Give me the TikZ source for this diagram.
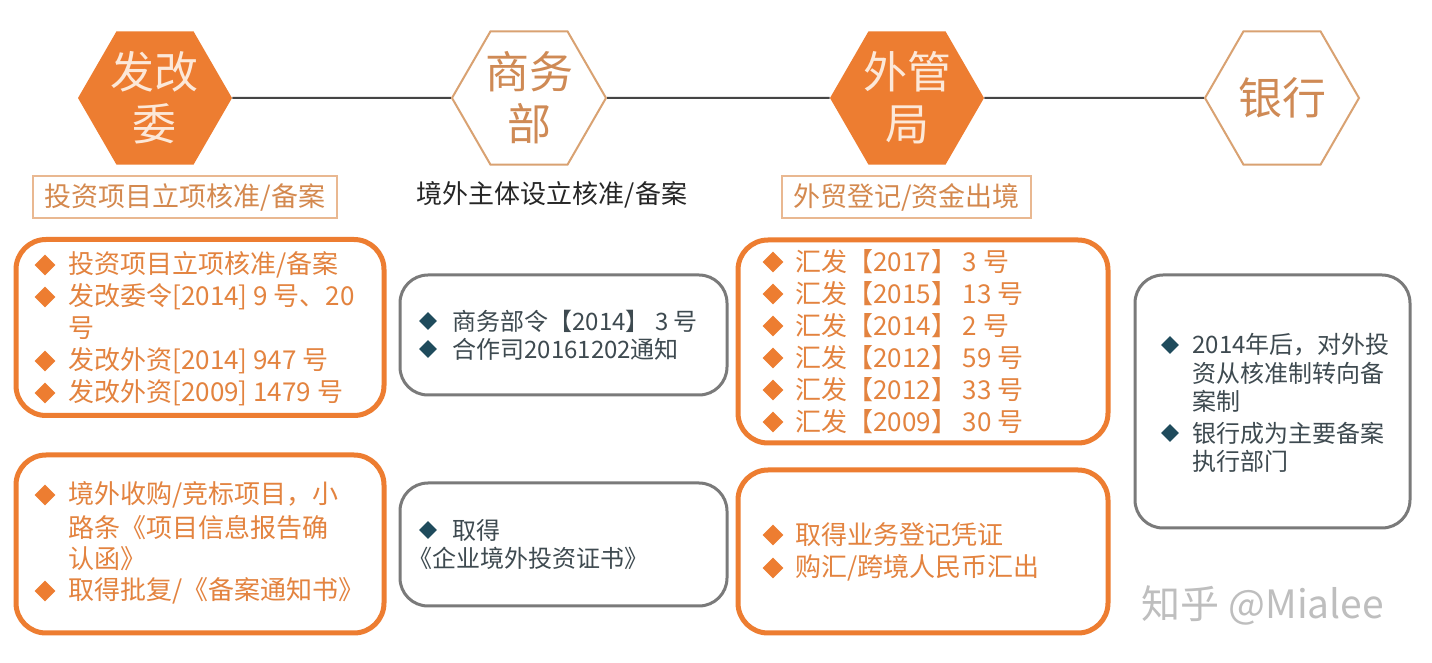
\documentclass[tikz,border=0pt]{standalone}
\usepackage{fontspec}
\setmainfont{Noto Sans CJK SC}
\usetikzlibrary{shapes.geometric}
\definecolor{org}{HTML}{ED7D31}
\definecolor{hexlt}{HTML}{FCE8D8}
\definecolor{hexline}{HTML}{D9A272}
\definecolor{hextxt}{HTML}{CF8A55}
\definecolor{linegray}{HTML}{454545}
\definecolor{lblline}{HTML}{E9B891}
\definecolor{lbltxt}{HTML}{D4894F}
\definecolor{otext}{HTML}{E3833F}
\definecolor{boxgray}{HTML}{7A7A7A}
\definecolor{gtext}{HTML}{3E4A50}
\definecolor{dteal}{HTML}{1F4B5C}
\definecolor{wm}{HTML}{BEBEBE}
\begin{document}
\begin{tikzpicture}[x=0.5pt,y=-0.5pt,
  hexf/.style={regular polygon, regular polygon sides=6, minimum size=77pt, inner sep=0pt, fill=org, text=hexlt, align=center, font=\fontsize{22pt}{26pt}\selectfont},
  hexo/.style={regular polygon, regular polygon sides=6, minimum size=77pt, inner sep=0pt, draw=hexline, line width=1pt, fill=white, text=hextxt, align=center, font=\fontsize{22pt}{26pt}\selectfont},
  link/.style={draw=linegray, line width=1pt},
  lbox/.style={draw=lblline, line width=1pt, text=lbltxt, inner sep=0pt, font=\fontsize{13.5pt}{16pt}\selectfont},
  obox/.style={draw=org, line width=2.5pt, rounded corners=15pt, inner sep=0pt},
  gbox/.style={draw=boxgray, line width=1.5pt, rounded corners=14pt, inner sep=0pt},
  otxt/.style={anchor=west, inner sep=0pt, text=otext, font=\fontsize{13pt}{15pt}\selectfont},
  gtxt/.style={anchor=west, inner sep=0pt, text=gtext, font=\fontsize{12pt}{14pt}\selectfont},
  odia/.style={diamond, fill=org, minimum width=10.5pt, minimum height=10.5pt, inner sep=0pt},
  gdia/.style={diamond, fill=dteal, minimum width=9pt, minimum height=9pt, inner sep=0pt},
]
\useasboundingbox[fill=white] (0,0) rectangle (1432,663);

% hexagons
\node[hexf] (fgw) at (155,98) {发改\\委};
\node[hexo] (swb) at (529,98) {商务\\部};
\node[hexf] (wgj) at (907,98) {外管\\局};
\node[hexo] (yh) at (1282,98) {银行};
\draw[link] (fgw) -- (swb);
\draw[link] (swb) -- (wgj);
\draw[link] (wgj) -- (yh);

% labels
\node[lbox, minimum width=152pt, minimum height=21pt] (l1) at (185,197) {投资项目立项核准/备案};
\node[inner sep=0pt, text=black!85, font=\fontsize{13pt}{16pt}\selectfont] (l2) at (552,195) {境外主体设立核准/备案};
\node[lbox, minimum width=124.5pt, minimum height=21pt] (l3) at (906.5,197) {外贸登记/资金出境};

% boxes
\node[obox, minimum width=184pt, minimum height=88pt] (a1) at (200,327.5) {};
\node[obox, minimum width=184pt, minimum height=89pt] (a2) at (200,544) {};
\node[gbox, minimum width=163.5pt, minimum height=60pt] (b1) at (563.5,335) {};
\node[gbox, minimum width=163.5pt, minimum height=61.5pt] (b2) at (563.5,544.5) {};
\node[obox, minimum width=185pt, minimum height=101.5pt] (c1) at (923,341.5) {};
\node[obox, minimum width=185pt, minimum height=81.5pt] (c2) at (923,551.5) {};
\node[gbox, minimum width=137.5pt, minimum height=126.5pt] (d) at (1272.5,401.5) {};

% A1
\node[odia] (a1d1) at (45,265) {};
\node[otxt] (a1t1) at (68,265) {投资项目立项核准/备案};
\node[odia] (a1d2) at (45,297) {};
\node[otxt] (a1t2) at (68,297) {发改委令[2014] 9 号、20};
\node[otxt] (a1t3) at (68,328) {号};
\node[odia] (a1d4) at (45,361) {};
\node[otxt] (a1t4) at (68,361) {发改外资[2014] 947 号};
\node[odia] (a1d5) at (45,393) {};
\node[otxt] (a1t5) at (68,393) {发改外资[2009] 1479 号};

% A2
\node[odia] (a2d1) at (45,495) {};
\node[otxt] (a2t1) at (68,495) {境外收购/竞标项目，小};
\node[otxt] (a2t2) at (68,528) {路条《项目信息报告确};
\node[otxt] (a2t3) at (68,559) {认函》};
\node[odia] (a2d4) at (45,591) {};
\node[otxt] (a2t4) at (68,591) {取得批复/《备案通知书》};

% B1
\node[gdia] (b1d1) at (428,321) {};
\node[gtxt] (b1t1) at (452,321) {商务部令【2014】 3 号};
\node[gdia] (b1d2) at (428,349) {};
\node[gtxt] (b1t2) at (452,349) {合作司20161202通知};

% B2
\node[gdia] (b2d1) at (428,530) {};
\node[gtxt] (b2t1) at (452,530) {取得};
\node[gtxt] (b2t2) at (408,558) {《企业境外投资证书》};

% C1
\node[odia] (c1d1) at (773,262) {};
\node[otxt] (c1t1) at (795,262) {汇发【2017】 3 号};
\node[odia] (c1d2) at (773,294) {};
\node[otxt] (c1t2) at (795,294) {汇发【2015】 13 号};
\node[odia] (c1d3) at (773,326) {};
\node[otxt] (c1t3) at (795,326) {汇发【2014】 2 号};
\node[odia] (c1d4) at (773,358) {};
\node[otxt] (c1t4) at (795,358) {汇发【2012】 59 号};
\node[odia] (c1d5) at (773,390) {};
\node[otxt] (c1t5) at (795,390) {汇发【2012】 33 号};
\node[odia] (c1d6) at (773,422) {};
\node[otxt] (c1t6) at (795,422) {汇发【2009】 30 号};

% C2
\node[odia] (c2d1) at (773,535) {};
\node[otxt] (c2t1) at (795,535) {取得业务登记凭证};
\node[odia] (c2d2) at (773,568) {};
\node[otxt] (c2t2) at (795,568) {购汇/跨境人民币汇出};

% D
\node[gdia] (dd1) at (1170,345) {};
\node[gtxt] (dt1) at (1192,345) {2014年后，对外投};
\node[gtxt] (dt2) at (1192,373) {资从核准制转向备};
\node[gtxt] (dt3) at (1192,401) {案制};
\node[gdia] (dd2) at (1170,433) {};
\node[gtxt] (dt4) at (1192,433) {银行成为主要备案};
\node[gtxt] (dt5) at (1192,461) {执行部门};

% signature
\node[inner sep=0pt, text=wm, font=\fontsize{19.5pt}{22pt}\selectfont] (sig) at (1263,605) {知乎 @Mialee};
\end{tikzpicture}
\end{document}
